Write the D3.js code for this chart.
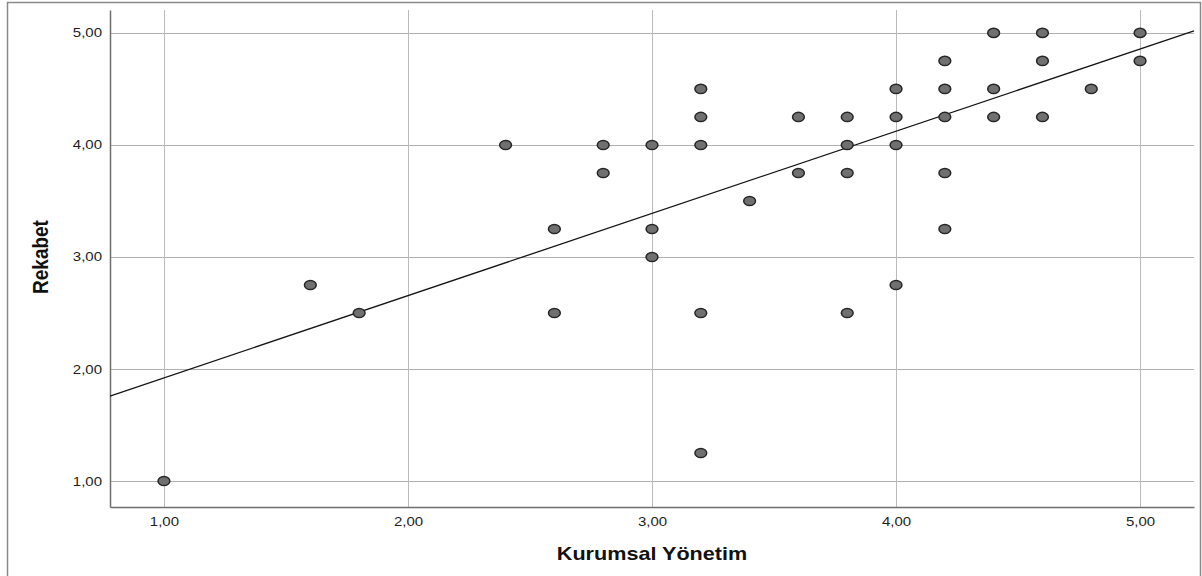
<!DOCTYPE html>
<html>
<head>
<meta charset="utf-8">
<script src="https://cdn.jsdelivr.net/npm/d3@7"></script>
<style>
  body { margin: 0; background: #fff; }
  svg { display: block; font-family: "Liberation Sans", Arial, sans-serif; }
</style>
</head>
<body>
<div id="chart"></div>
<script>
// Kurumsal Yönetim (x) vs Rekabet (y)
var xValues = [1.0, 1.6, 1.8, 2.4, 2.6, 2.6, 2.8, 2.8, 3.0, 3.0, 3.0,
               3.2, 3.2, 3.2, 3.2, 3.2, 3.4, 3.6, 3.6, 3.8, 3.8, 3.8, 3.8,
               4.0, 4.0, 4.0, 4.0, 4.2, 4.2, 4.2, 4.2, 4.2, 4.4, 4.4, 4.4,
               4.6, 4.6, 4.6, 4.8, 5.0, 5.0];
var yValues = [1.0, 2.75, 2.5, 4.0, 3.25, 2.5, 4.0, 3.75, 4.0, 3.25, 3.0,
               4.5, 4.25, 4.0, 2.5, 1.25, 3.5, 4.25, 3.75, 4.25, 4.0, 3.75, 2.5,
               4.5, 4.25, 4.0, 2.75, 4.75, 4.5, 4.25, 3.75, 3.25, 5.0, 4.5, 4.25,
               5.0, 4.75, 4.25, 4.5, 5.0, 4.75];

var xTicks = [1, 2, 3, 4, 5];
var yTicks = [1, 2, 3, 4, 5];

// fit line
var fitIntercept = 1.187,
    fitSlope = 0.734;

var xTitle = "Kurumsal Yönetim",
    yTitle = "Rekabet";

(function() {
    var width = 1202, height = 576,
        plotLeft = 110, plotRight = 1194, plotTop = 10, plotBottom = 507,
        stretch = 1.2;   // the original picture is a bit wide

    var fmt = function(d) { return d3.format(".2f")(d).replace(".", ","); };

    var x = d3.scaleLinear().domain([0.779, 5.221]).range([plotLeft, plotRight]);
    var y = d3.scaleLinear().domain([0.768, 5.205]).range([plotBottom, plotTop]);

    var svg = d3.select("#chart").append("svg")
                .attr("width", width)
                .attr("height", height);

    svg.append("rect").attr("width", width).attr("height", height).attr("fill", "#fff");

    // outer frame
    svg.append("path")
       .attr("d", "M7.5," + height + "V2.5H1200.5V" + height)
       .attr("fill", "none")
       .attr("stroke", "#8a8a8a")
       .attr("stroke-width", 1.5);

    /* grid */
    var grid = svg.append("g").attr("class", "grid");

    grid.selectAll(".hgrid")
        .data(yTicks)
        .enter().append("line")
        .attr("x1", plotLeft).attr("x2", plotRight)
        .attr("y1", function(d) { return Math.round(y(d)) + 0.5; })
        .attr("y2", function(d) { return Math.round(y(d)) + 0.5; })
        .attr("stroke", "#b0b0b0");

    grid.selectAll(".vgrid")
        .data(xTicks)
        .enter().append("line")
        .attr("y1", plotTop).attr("y2", plotBottom)
        .attr("x1", function(d) { return Math.round(x(d)) + 0.5; })
        .attr("x2", function(d) { return Math.round(x(d)) + 0.5; })
        .attr("stroke", "#bbbbbb");

    /* axes */
    var xAxis = d3.axisBottom(x).tickValues(xTicks).tickSize(0).tickPadding(8).tickFormat(fmt);
    var yAxis = d3.axisLeft(y).tickValues(yTicks).tickSize(0).tickPadding(8).tickFormat(fmt);

    var gx = svg.append("g").attr("transform", "translate(0," + plotBottom + ")").call(xAxis);
    var gy = svg.append("g").attr("transform", "translate(" + plotLeft + ",0)").call(yAxis);

    [gx, gy].forEach(function(g) {
        g.select(".domain").attr("stroke", "#6e6e6e").attr("stroke-width", 1.5);
        g.selectAll("text")
         .attr("font-size", "12.5px")
         .attr("fill", "#1e1e1e")
         .attr("font-family", "'Liberation Sans', Arial, sans-serif");
    });

    // widen tick labels like the source image
    gx.selectAll(".tick text")
      .attr("transform", "translate(0,7) scale(" + stretch + ",1)")
      .attr("y", 0).attr("dy", "0.95em");
    gy.selectAll(".tick text")
      .attr("transform", "translate(-8,0) scale(" + stretch + ",1)")
      .attr("x", 0);

    /* fit line */
    var fitLine = d3.line()
                    .x(function(d) { return x(d); })
                    .y(function(d) { return y(fitIntercept + fitSlope * d); });

    svg.append("path")
       .datum(x.domain())
       .attr("d", fitLine)
       .attr("fill", "none")
       .attr("stroke", "#151515")
       .attr("stroke-width", 1.3);

    /* points */
    var points = d3.range(xValues.length).map(function(i) { return { x: xValues[i], y: yValues[i] }; });

    svg.append("g").attr("class", "points")
       .selectAll("ellipse")
       .data(points)
       .enter().append("ellipse")
       .attr("cx", function(d) { return x(d.x); })
       .attr("cy", function(d) { return y(d.y); })
       .attr("rx", 5.9)
       .attr("ry", 4.6)
       .attr("fill", "#707070")
       .attr("stroke", "#262626")
       .attr("stroke-width", 1.5);

    /* titles */
    svg.append("text")
       .text(xTitle)
       .attr("text-anchor", "middle")
       .attr("font-size", "18px")
       .attr("font-weight", "bold")
       .attr("fill", "#111")
       .attr("transform", "translate(652,560) scale(" + stretch + ",1)");

    svg.append("text")
       .text(yTitle)
       .attr("text-anchor", "middle")
       .attr("font-size", "19px")
       .attr("font-weight", "bold")
       .attr("fill", "#111")
       .attr("transform", "translate(48,257) scale(" + stretch + ",1) rotate(-90)");
})();
</script>
</body>
</html>
